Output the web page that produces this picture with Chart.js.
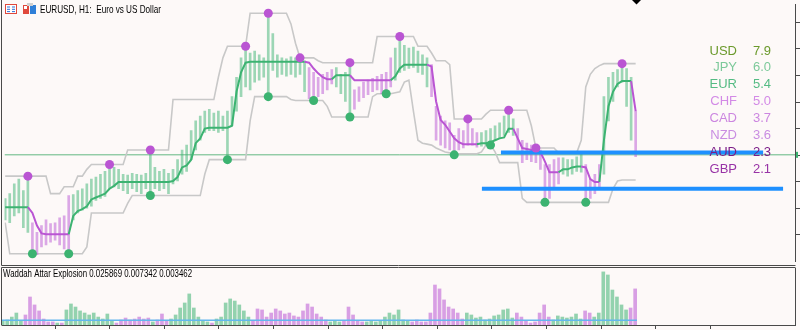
<!DOCTYPE html>
<html>
<head>
<meta charset="utf-8">
<script src="https://cdn.jsdelivr.net/npm/chart.js@4.4.1/dist/chart.umd.min.js"></script>
<style>
  html, body { margin: 0; padding: 0; background: #fdf9f8; }
  #wrap { position: relative; width: 800px; height: 330px; overflow: hidden; background: #fdf9f8; }
  canvas { position: absolute; left: 0; }
  #main { top: 0; }
  #sub { top: 266px; }
</style>
</head>
<body>
<div id="wrap">
  <canvas id="main" width="800" height="266"></canvas>
  <canvas id="sub" width="800" height="64"></canvas>
</div>
<script>
// EURUSD H1, one entry every 2 hours (price in points above window low)
const firstHour = 1;
const hourStep = 2;

const upperBand = [
  88,88,88,88,88,88,88,88,88,88,
  70,70,70,77,77,77,88,88,95,100,
  100,100,100,100,100,100,100,115,115,115,
  115,115,115,115,115,115,115,167,167,167,
  167,167,167,167,167,167,167,190,210,222,
  222,222,222,222,256,256,256,256,256,256,
  256,256,256,245,225,210,210,210,210,207,
  205,205,205,205,205,205,205,205,205,205,
  205,205,232,232,232,232,232,232,232,232,
  232,222,222,222,215,207,207,207,203,147,
  147,147,147,147,147,147,152,156,156,156,
  156,156,156,156,156,156,140,117,117,117,
  117,117,112,112,112,112,112,125,180,193,
  199,202,204,204,204,204,204,204,204,204
];
const lowerBand = [
  40,8,8,8,8,8,8,8,8,8,
  8,8,8,8,8,8,8,8,15,50,
  50,50,50,50,50,50,50,60,68,68,
  68,68,68,68,68,68,68,68,68,68,
  68,68,68,68,90,105,105,105,105,105,
  105,105,105,105,145,170,170,170,170,170,
  170,170,170,167,166,166,166,166,166,166,
  166,160,149,149,149,149,149,149,149,149,
  149,170,173,173,173,173,174,175,185,187,
  155,125,122,121,120,117,115,113,112,110,
  111,111,111,111,111,113,120,120,113,102,
  102,102,102,102,65,61,61,61,61,61,
  61,61,61,61,61,61,61,61,61,61,
  61,61,61,61,75,83,84,84,84,84
];
const midLine = [
  56,56,56,56,56,56,50,37,29,28,
  28,28,28,28,28,47,52,54,57,64,
  66,68,70,75,78,82,82,82,82,82,
  82,82,82,82,82,82,82,83,87,97,
  99,105,122,127,137,138,138,138,138,138,
  140,175,195,205,206,206,206,206,206,206,
  206,206,206,206,206,206,206,205,199,194,
  190,188,188,192,192,192,192,187,187,187,
  187,187,187,187,187,187,191,199,203,203,
  203,203,203,203,201,165,146,141,134,127,
  123,121,121,121,121,122,122,123,125,127,
  128,137,137,127,117,116,115,115,113,103,
  92,92,92,95,95,97,98,98,97,85,
  82,82,125,160,175,183,186,186,186,155
];
const trend = [
  1,1,1,1,1,1,-1,-1,-1,-1,
  -1,-1,-1,-1,-1,1,1,1,1,1,
  1,1,1,1,1,1,1,1,1,1,
  1,1,1,1,1,1,1,1,1,1,
  1,1,1,1,1,1,1,1,1,1,
  1,1,1,1,1,1,1,1,1,1,
  1,1,1,1,1,1,1,-1,-1,-1,
  -1,-1,-1,1,1,1,1,-1,-1,-1,
  -1,-1,-1,-1,-1,-1,1,1,1,1,
  1,1,1,1,-1,-1,-1,-1,-1,-1,
  -1,-1,-1,-1,-1,1,1,1,1,1,
  1,1,1,-1,-1,-1,-1,-1,-1,-1,
  -1,-1,-1,1,1,1,1,1,-1,-1,
  -1,-1,1,1,1,1,1,1,1,-1
];
const candleHigh = [
  65,70,80,85,73,88,40,30,37,43,
  39,40,45,47,68,69,73,75,80,85,
  87,90,93,103,97,95,90,89,91,90,
  89,91,115,97,93,95,91,95,105,115,
  120,135,145,150,155,157,153,155,150,155,
  170,190,210,222,215,217,213,210,257,235,
  213,210,209,211,210,212,207,200,195,190,
  193,195,198,200,193,195,205,177,180,185,
  187,189,191,193,195,210,220,233,223,220,
  221,217,213,210,203,160,150,145,143,130,
  137,135,147,137,133,133,135,137,140,143,
  150,155,147,137,125,122,120,117,115,100,
  100,105,107,107,105,105,108,112,100,85,
  90,100,170,190,195,198,204,199,190,155
];
const candleLow = [
  43,40,47,50,35,30,7,7,15,17,
  20,22,17,13,9,43,50,53,55,57,
  63,65,67,75,77,75,73,70,75,72,
  70,75,66,75,73,75,70,80,83,90,
  93,105,115,125,133,135,135,133,135,105,
  140,155,170,180,177,185,187,190,170,197,
  190,193,191,193,190,193,175,168,166,170,
  173,177,183,180,173,165,149,157,165,169,
  172,175,177,173,173,180,187,195,197,199,
  200,195,193,180,170,125,120,117,115,110,
  115,117,120,120,118,119,120,120,125,127,
  130,133,130,115,102,105,103,102,95,58,
  65,75,80,90,88,90,93,92,62,65,
  70,75,90,145,165,180,185,160,125,108
];
const swingHighIdx = [5, 23, 32, 53, 58, 65, 76, 87, 102, 111, 117, 136];
const swingLowIdx = [6, 14, 32, 49, 58, 68, 76, 84, 99, 107, 119, 128];

const currentPrice = 110;
const levelPrice = [112.5, 75];
const levelStart = [219.6, 211.2];
const levelEnd = [335.2, 344.0];

const currencies = ['USD', 'JPY', 'EUR', 'CHF', 'CAD', 'NZD', 'AUD', 'GBP'];
const strength = [7.9, 6.0, 5.4, 5.0, 3.7, 3.6, 2.3, 2.1];

// Waddah Attar Explosion histogram
const waeUp = [
  .0029,.0036,.0057,.0086,.0029,0,0,0,0,0,
  0,0,.0014,0,.0108,.0151,.0129,.0101,.0086,.0072,
  .0086,.0057,.0043,.0079,.0029,0,0,0,0,0,
  0,0,0,.0022,0,0,0,.0043,.0072,.0122,
  .0158,.0223,.0122,.0057,.0029,.0022,0,.0043,.0057,.0158,
  .0187,.0172,.0144,.0101,.0057,0,0,0,0,0,
  0,0,0,0,0,0,0,0,0,0,
  0,0,.0022,.0029,.0022,0,0,0,0,0,
  .0022,.0029,.0022,.0029,.0057,.0086,.0072,.0108,.0036,.0029,
  0,0,0,0,0,0,0,0,0,0,
  0,0,.0086,.0072,.0050,.0057,.0036,.0043,.0065,.0072,
  .0108,.0115,.0050,0,0,0,0,0,0,0,
  0,.0036,.0065,.0057,.0050,.0057,.0079,.0043,0,0,
  .0057,.0086,.0381,.0359,.0251,.0201,.0144,.0108,0,0
];
const waeDown = [
  0,0,0,0,0,.0072,.0201,.0144,.0101,.0043,
  .0022,.0022,0,.0014,0,0,0,0,0,0,
  0,0,0,0,0,.0014,.0036,.0050,.0036,.0043,
  .0057,.0043,.0050,0,.0036,.0079,.0029,0,0,0,
  0,0,0,0,0,0,.0014,0,0,0,
  0,0,0,0,0,.0029,.0115,.0108,.0057,.0086,
  .0115,.0101,.0079,.0086,.0065,.0057,.0101,.0151,.0129,.0079,
  .0057,.0036,0,0,0,.0029,.0129,.0072,.0029,.0022,
  0,0,0,0,0,0,0,0,0,0,
  .0022,.0036,.0022,.0022,.0086,.0287,.0259,.0180,.0129,.0115,
  .0086,.0043,0,0,0,0,0,0,0,0,
  0,0,0,.0086,.0057,.0029,.0014,.0022,.0086,.0144,
  .0057,0,0,0,0,0,0,0,.0101,.0086,
  0,0,0,0,0,0,0,0,.0122,.0259
];
const waeReadout = [0.025869, 0.007342, 0.003462];
const deadZone = 0.003462;

// ---- styles ----
const GREEN = '#3cb371';
const PURPLE = '#ba55d3';
const BAND = '#c8c8c8';
const FRAME = '#4a4a4a';
const X_MIN = 0.69, X_MAX = 349.26;
const currencyColors = ['#6b9a2c', '#7cc99a', '#55bb84', '#d38ae6', '#cc86e0', '#c98de2', '#7b1d88', '#9833a6'];

const hours = upperBand.map((_, i) => firstHour + i * hourStep);
const pts = arr => arr.map((v, i) => ({ x: hours[i], y: v }));
const candles = dir => hours
  .map((h, i) => (trend[i] === dir ? { x: h, y: [candleLow[i], candleHigh[i]] } : null))
  .filter(Boolean);
const bars = arr => hours.map((h, i) => ({ x: h, y: arr[i] })).filter(p => p.y > 0);

function fitText(ctx, text, x, y, width) {
  const w = ctx.measureText(text).width;
  ctx.save();
  ctx.translate(x, y);
  ctx.scale(width / w, 1);
  ctx.fillText(text, 0, 0);
  ctx.restore();
}

const mainOverlay = {
  id: 'mainOverlay',
  afterDraw(chart) {
    const ctx = chart.ctx;
    const y = chart.scales.y;
    ctx.save();
    // panel frame
    ctx.strokeStyle = FRAME;
    ctx.lineWidth = 1;
    ctx.beginPath();
    ctx.moveTo(1.5, 0); ctx.lineTo(1.5, 265.5); ctx.lineTo(795.5, 265.5);
    ctx.stroke();
    // price marker on the right axis
    ctx.fillStyle = GREEN;
    ctx.fillRect(796, y.getPixelForValue(currentPrice) - 3, 2, 6);
    // chart shift marker
    ctx.fillStyle = '#000';
    ctx.beginPath();
    ctx.moveTo(632, 0); ctx.lineTo(641, 0); ctx.lineTo(636.5, 4.5);
    ctx.closePath(); ctx.fill();
    // title icons
    ctx.fillStyle = '#fff';
    ctx.fillRect(5, 4, 12, 10);
    ctx.strokeStyle = '#e0483c';
    ctx.strokeRect(5.5, 4.5, 11, 9);
    ctx.fillStyle = '#2f6fd6';
    for (let r = 0; r < 3; r++) {
      ctx.fillRect(7, 6.5 + r * 2.3, 3, 1);
      ctx.fillRect(12, 6.5 + r * 2.3, 3, 1);
    }
    ctx.fillStyle = '#e0483c';
    ctx.fillRect(23, 5, 6, 9);
    ctx.fillStyle = '#fff';
    ctx.fillRect(24, 6, 3, 3);
    ctx.fillStyle = '#2f7fd8';
    ctx.fillRect(30, 5, 6, 9);
    ctx.fillStyle = '#d0d0d0';
    ctx.fillRect(27, 3, 6, 3);
    // title
    ctx.fillStyle = '#000';
    ctx.font = '11px "Liberation Sans", Arial, sans-serif';
    ctx.textBaseline = 'middle';
    fitText(ctx, 'EURUSD, H1:  Euro vs US Dollar', 40, 9.5, 121);
    // currency strength table
    ctx.font = '13px "Liberation Sans", Arial, sans-serif';
    currencies.forEach((c, i) => {
      const ty = 51 + i * 16.9;
      ctx.fillStyle = currencyColors[i];
      ctx.textAlign = 'right';
      ctx.fillText(c, 737, ty);
      ctx.textAlign = 'left';
      ctx.fillText(strength[i].toFixed(1), 753, ty);
    });
    ctx.restore();
  }
};

const subOverlay = {
  id: 'subOverlay',
  afterDraw(chart) {
    const ctx = chart.ctx;
    ctx.save();
    ctx.strokeStyle = FRAME;
    ctx.lineWidth = 1;
    ctx.beginPath();
    ctx.moveTo(1.5, 59.5); ctx.lineTo(1.5, 1.5); ctx.lineTo(795.5, 1.5);
    ctx.stroke();
    ctx.fillStyle = '#000';
    ctx.font = '10px "Liberation Sans", Arial, sans-serif';
    ctx.textBaseline = 'middle';
    const txt = 'Waddah Attar Explosion ' + waeReadout.map(v => v.toFixed(6)).join(' ');
    fitText(ctx, txt, 3, 8.5, 189);
    ctx.restore();
  }
};

new Chart(document.getElementById('main'), {
  type: 'bar',
  data: {
    datasets: [
      {
        type: 'line', order: 0, showLine: false,
        data: swingHighIdx.map(i => ({ x: hours[i], y: upperBand[i] })),
        pointRadius: 4.5, pointBackgroundColor: PURPLE, pointBorderWidth: 0
      },
      {
        type: 'line', order: 0, showLine: false,
        data: swingLowIdx.map(i => ({ x: hours[i], y: lowerBand[i] })),
        pointRadius: 4.5, pointBackgroundColor: GREEN, pointBorderWidth: 0
      },
      ...levelPrice.map((p, k) => ({
        type: 'line', order: 1,
        data: [{ x: levelStart[k], y: p }, { x: levelEnd[k], y: p }],
        borderColor: '#1e90ff', borderWidth: 4, pointRadius: 0, borderCapStyle: 'butt'
      })),
      {
        type: 'line', order: 2,
        data: pts(midLine),
        borderWidth: 2, pointRadius: 0, tension: 0,
        borderColor: GREEN,
        segment: { borderColor: c => (trend[c.p1DataIndex] > 0 ? GREEN : PURPLE) }
      },
      {
        order: 3, data: candles(1), grouped: false,
        backgroundColor: 'rgba(60,179,113,0.5)', barThickness: 2
      },
      {
        order: 3, data: candles(-1), grouped: false,
        backgroundColor: 'rgba(186,85,211,0.5)', barThickness: 2
      },
      {
        type: 'line', order: 4, data: pts(upperBand),
        borderColor: BAND, borderWidth: 1.6, pointRadius: 0
      },
      {
        type: 'line', order: 4, data: pts(lowerBand),
        borderColor: BAND, borderWidth: 1.6, pointRadius: 0
      },
      {
        type: 'line', order: 5,
        data: [{ x: X_MIN, y: currentPrice }, { x: X_MAX, y: currentPrice }],
        borderColor: '#62b882', borderWidth: 1, pointRadius: 0
      }
    ]
  },
  options: {
    responsive: false,
    animation: false,
    events: [],
    layout: { padding: { left: 2, top: 0, bottom: 1, right: 0 } },
    plugins: { legend: { display: false }, tooltip: { enabled: false } },
    scales: {
      x: { type: 'linear', min: X_MIN, max: X_MAX, offset: false, display: false },
      y: {
        position: 'right', min: 0, max: 265,
        ticks: { display: false, stepSize: 27.4, maxTicksLimit: 30 },
        afterBuildTicks: a => { a.ticks = a.ticks.filter(t => t.value > 1 && t.value < 264); },
        grid: { drawOnChartArea: false, drawTicks: true, tickLength: 5, color: FRAME },
        border: { color: FRAME, width: 1 }
      }
    }
  },
  plugins: [mainOverlay]
});

new Chart(document.getElementById('sub'), {
  type: 'bar',
  data: {
    datasets: [
      {
        type: 'line', order: 0,
        data: [{ x: X_MIN, y: deadZone }, { x: hours[hours.length - 1] + 0.8, y: deadZone }],
        borderColor: '#62b6ee', borderWidth: 1.5, pointRadius: 0
      },
      {
        order: 1, data: bars(waeUp), grouped: false,
        backgroundColor: 'rgba(60,179,113,0.55)', barThickness: 3
      },
      {
        order: 1, data: bars(waeDown), grouped: false,
        backgroundColor: 'rgba(186,85,211,0.55)', barThickness: 3
      }
    ]
  },
  options: {
    responsive: false,
    animation: false,
    events: [],
    layout: { padding: { left: 2, top: 2, bottom: 1, right: 0 } },
    plugins: { legend: { display: false }, tooltip: { enabled: false } },
    scales: {
      x: {
        type: 'linear', min: X_MIN, max: X_MAX, offset: false,
        ticks: { display: false, stepSize: 24, maxTicksLimit: 40 },
        afterBuildTicks: a => { a.ticks = a.ticks.filter(t => Math.abs(t.value % 24) < 0.01); },
        grid: { offset: false, drawOnChartArea: false, drawTicks: true, tickLength: 4, color: FRAME },
        border: { color: FRAME, width: 1 }
      },
      y: {
        position: 'right', min: 0, max: 0.0409,
        ticks: { display: false },
        afterBuildTicks: a => { a.ticks = []; },
        grid: { drawOnChartArea: false, drawTicks: true, tickLength: 5, color: FRAME },
        border: { color: FRAME, width: 1 }
      }
    }
  },
  plugins: [subOverlay]
});
</script>
</body>
</html>
